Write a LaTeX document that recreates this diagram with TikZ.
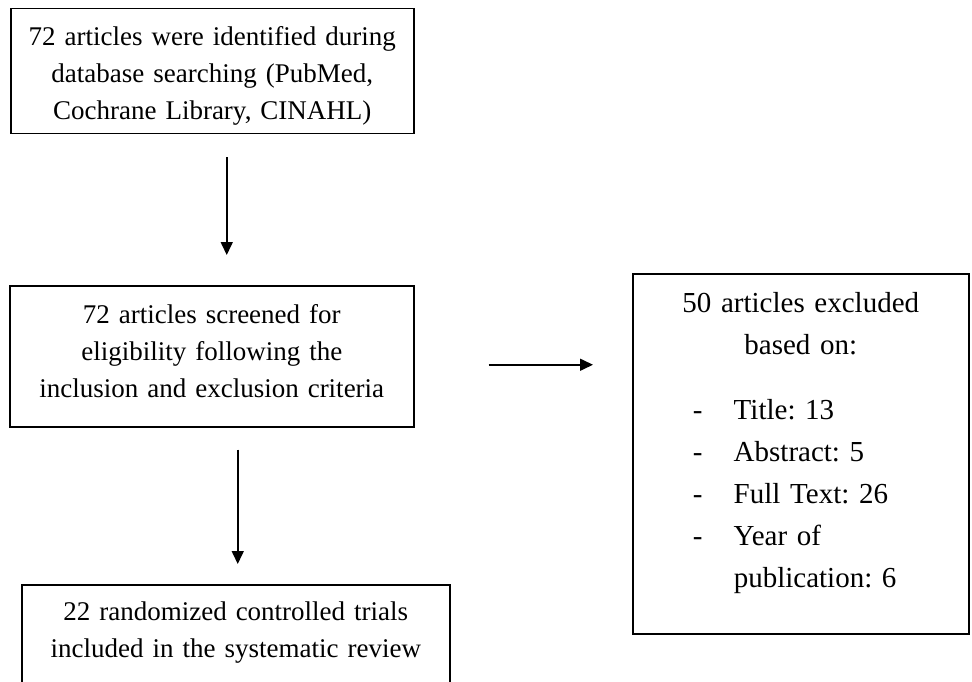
\documentclass[tikz,border=0pt]{standalone}
\usepackage{fontspec}
\setmainfont{Liberation Serif}
\usetikzlibrary{arrows.meta,calc,positioning}

\frenchspacing
\newcommand{\boxfont}{\fontsize{27}{37}\selectfont}
\newcommand{\listfont}{\fontsize{29}{42}\selectfont}
\newcommand{\bullitem}[1]{\makebox[216pt][l]{\makebox[41pt][l]{-}#1}}
\newcommand{\contitem}[1]{\makebox[216pt][l]{\hspace*{41pt}#1}}

\tikzset{
  frame/.style={draw, line width=1.5pt, inner sep=0pt, align=center, font=\boxfont},
  flow/.style={line width=1.6pt, -{Triangle[length=13pt,width=12pt]}},
}

\begin{document}
\begin{tikzpicture}[x=1pt,y=1pt]
  \useasboundingbox (0,0) rectangle (972,-682);
  \clip (0,0) rectangle (972,-682);

  %%% boxes
  \node[frame, anchor=north west, text width=403pt, text height=37pt, text depth=88pt] (search) at (10,-8)
    {72 articles were identified during\\database searching (PubMed,\\Cochrane Library, CINAHL)};

  \node[frame, anchor=north west, text width=404pt, text height=38pt, text depth=103pt] (screen) at (9,-285)
    {72 articles screened for\\eligibility following the\\inclusion and exclusion criteria};

  \node[frame, anchor=north west, text width=336pt, text height=39pt, text depth=321pt, font=\listfont] (excl) at (632,-273)
    {50 articles excluded\\based on:\\[23pt]
     \bullitem{Title: 13}\\
     \bullitem{Abstract: 5}\\
     \bullitem{Full Text: 26}\\
     \bullitem{Year of}\\
     \contitem{publication: 6}};

  \node[frame, anchor=north west, text width=428pt, text height=36pt, text depth=110pt] (trials) at (21,-584)
    {22 randomized controlled trials\\included in the systematic review};

  %%% arrows
  \draw[flow] ($(search.south)+(14.5,-23)$) -- ($(search.south |- screen.north)+(14.5,30)$);
  \draw[flow] ($(screen.east)+(74,-8.5)$) -- ($(excl.west |- screen.east)+(-39,-8.5)$);
  \draw[flow] ($(screen.south)+(26,-22)$) -- ($(screen.south |- trials.north)+(26,20)$);
\end{tikzpicture}
\end{document}
